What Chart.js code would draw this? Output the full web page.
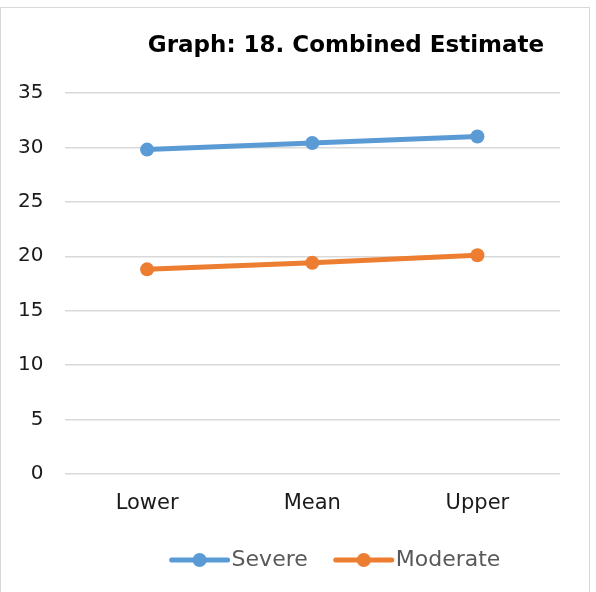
<!DOCTYPE html>
<html>
<head>
<meta charset="utf-8">
<script src="https://cdn.jsdelivr.net/npm/chart.js@4"></script>
<style>
  html, body { margin: 0; padding: 0; background: #fff; }
  #wrap { position: relative; width: 596px; height: 592px; overflow: hidden; }
  #frame { position: absolute; left: 0; top: 7px; width: 590px; height: 600px; border: 1px solid #d9d9d9; box-sizing: border-box; }
  canvas { position: absolute; left: 0; top: 0; }
</style>
</head>
<body>
<div id="wrap">
  <div id="frame"></div>
  <canvas id="c" width="596" height="592"></canvas>
</div>
<script>
const titleText = "Graph: 18. Combined Estimate";
const categories = ["Lower", "Mean", "Upper"];
const severe = [29.8, 30.4, 31.0];
const moderate = [18.8, 19.4, 20.1];
const seriesNames = ["Severe", "Moderate"];
const yTicks = [0, 5, 10, 15, 20, 25, 30, 35];

const FONT = "'DejaVu Sans', sans-serif";

const overlay = {
  id: 'overlay',
  afterDraw(chart) {
    const ctx = chart.ctx;
    ctx.save();
    // title
    ctx.font = "bold 23px " + FONT;
    ctx.fillStyle = "#000";
    ctx.textBaseline = "middle";
    ctx.textAlign = "left";
    const tw = ctx.measureText(titleText).width;
    ctx.fillText(titleText, 346 - tw / 2, 46);
    // legend
    ctx.font = "22px " + FONT;
    const ds = chart.data.datasets;
    const lineLen = 56, gapText = 4, gapItem = 28;
    const widths = ds.map(d => lineLen + gapText + ctx.measureText(d.label).width);
    const total = widths.reduce((a, b) => a + b, 0) + gapItem * (ds.length - 1);
    let x = 336 - total / 2;
    const y = 560;
    ds.forEach((d, i) => {
      ctx.strokeStyle = d.borderColor;
      ctx.lineWidth = 5;
      ctx.lineCap = "round";
      ctx.beginPath();
      ctx.moveTo(x, y);
      ctx.lineTo(x + lineLen, y);
      ctx.stroke();
      ctx.fillStyle = d.borderColor;
      ctx.beginPath();
      ctx.arc(x + lineLen / 2, y, 7, 0, Math.PI * 2);
      ctx.fill();
      ctx.fillStyle = "#595959";
      ctx.textAlign = "left";
      ctx.fillText(d.label, x + lineLen + gapText, y);
      x += widths[i] + gapItem;
    });
    ctx.restore();
  }
};

new Chart(document.getElementById('c'), {
  type: 'line',
  data: {
    labels: categories,
    datasets: [
      { label: seriesNames[0], data: severe, borderColor: '#5B9BD5', backgroundColor: '#5B9BD5',
        borderWidth: 5, pointRadius: 7, pointBackgroundColor: '#5B9BD5', pointBorderWidth: 0, tension: 0 },
      { label: seriesNames[1], data: moderate, borderColor: '#ED7D31', backgroundColor: '#ED7D31',
        borderWidth: 5, pointRadius: 7, pointBackgroundColor: '#ED7D31', pointBorderWidth: 0, tension: 0 }
    ]
  },
  options: {
    responsive: false,
    animation: false,
    devicePixelRatio: 1,
    layout: { padding: { top: 93, left: 0, right: 36, bottom: 0 } },
    plugins: { legend: { display: false }, title: { display: false }, tooltip: { enabled: false } },
    scales: {
      x: {
        offset: true,
        grid: { display: false, drawTicks: false },
        border: { display: false },
        ticks: { color: '#1a1a1a', font: { family: FONT, size: 21 }, padding: 17, maxRotation: 0 },
        afterFit: s => { s.height = 118; }
      },
      y: {
        min: 0, max: 35,
        afterBuildTicks: s => { s.ticks = yTicks.map(v => ({ value: v })); },
        grid: { color: '#d9d9d9', lineWidth: 1.5, drawTicks: false },
        border: { display: false },
        ticks: { color: '#1a1a1a', font: { family: FONT, size: 20 }, padding: 21 },
        afterFit: s => { s.width = 64.5; }
      }
    }
  },
  plugins: [overlay]
});
</script>
</body>
</html>
